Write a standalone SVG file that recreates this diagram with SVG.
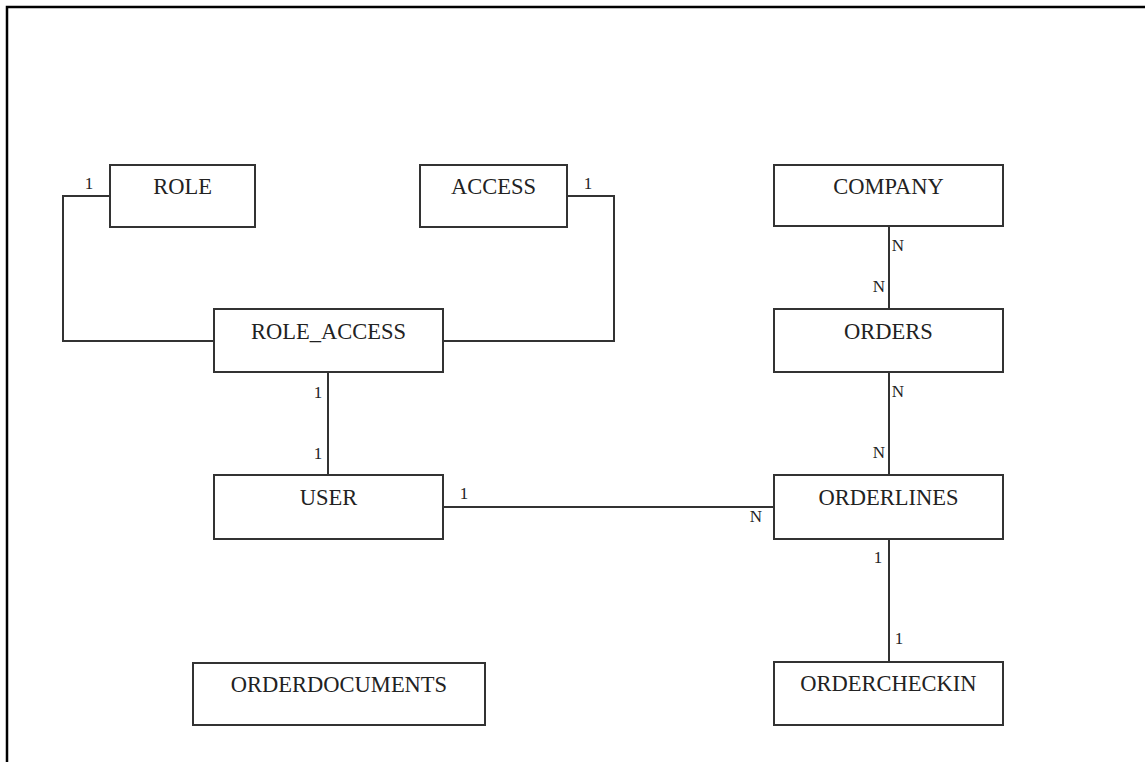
<svg xmlns="http://www.w3.org/2000/svg" width="1145" height="762" viewBox="0 0 1145 762">
  <style>
    .frame { fill: none; stroke: #000; stroke-width: 2.5; }
    .box { fill: #fff; stroke: #333; stroke-width: 2; }
    .name { font-family: "Liberation Serif", "Times New Roman", serif; font-size: 22.5px; fill: #222; text-anchor: middle; }
    .wire { fill: none; stroke: #333; stroke-width: 2; }
    .card { font-family: "Liberation Serif", "Times New Roman", serif; font-size: 17px; fill: #222; text-anchor: middle; }
  </style>
  <rect width="1145" height="762" fill="#fff"/>
  <!-- page border, open on the right and bottom -->
  <path class="frame" d="M7,770 V7 H1150"/>

  <g id="connectors">
    <path class="wire" d="M110,196 H63 V341 H214"/>
    <path class="wire" d="M567,196 H614 V341 H443"/>
    <path class="wire" d="M328,372 V474"/>
    <path class="wire" d="M443,507 H774"/>
    <path class="wire" d="M889,226 V309"/>
    <path class="wire" d="M889,372 V475"/>
    <path class="wire" d="M889,539 V662"/>
    <text class="card" x="89" y="189">1</text>
    <text class="card" x="588" y="189">1</text>
    <text class="card" x="318" y="398">1</text>
    <text class="card" x="318" y="459">1</text>
    <text class="card" x="464" y="499">1</text>
    <text class="card" x="756" y="522">N</text>
    <text class="card" x="898" y="251">N</text>
    <text class="card" x="879" y="292">N</text>
    <text class="card" x="898" y="397">N</text>
    <text class="card" x="879" y="458">N</text>
    <text class="card" x="878" y="563">1</text>
    <text class="card" x="899" y="644">1</text>
  </g>

  <g id="role">
    <rect class="box" x="110" y="165" width="145" height="62"/>
    <text class="name" x="182.5" y="194">ROLE</text>
  </g>
  <g id="access">
    <rect class="box" x="420" y="165" width="147" height="62"/>
    <text class="name" x="493.5" y="194">ACCESS</text>
  </g>
  <g id="company">
    <rect class="box" x="774" y="165" width="229" height="61"/>
    <text class="name" x="888.5" y="194">COMPANY</text>
  </g>
  <g id="role_access">
    <rect class="box" x="214" y="309" width="229" height="63"/>
    <text class="name" x="328.5" y="339">ROLE_ACCESS</text>
  </g>
  <g id="orders">
    <rect class="box" x="774" y="309" width="229" height="63"/>
    <text class="name" x="888.5" y="339">ORDERS</text>
  </g>
  <g id="user">
    <rect class="box" x="214" y="475" width="229" height="64"/>
    <text class="name" x="328.5" y="505">USER</text>
  </g>
  <g id="orderlines">
    <rect class="box" x="774" y="475" width="229" height="64"/>
    <text class="name" x="888.5" y="505">ORDERLINES</text>
  </g>
  <g id="orderdocuments">
    <rect class="box" x="193" y="663" width="292" height="62"/>
    <text class="name" x="339" y="692">ORDERDOCUMENTS</text>
  </g>
  <g id="ordercheckin">
    <rect class="box" x="774" y="662" width="229" height="63"/>
    <text class="name" x="888.5" y="691">ORDERCHECKIN</text>
  </g>
</svg>
